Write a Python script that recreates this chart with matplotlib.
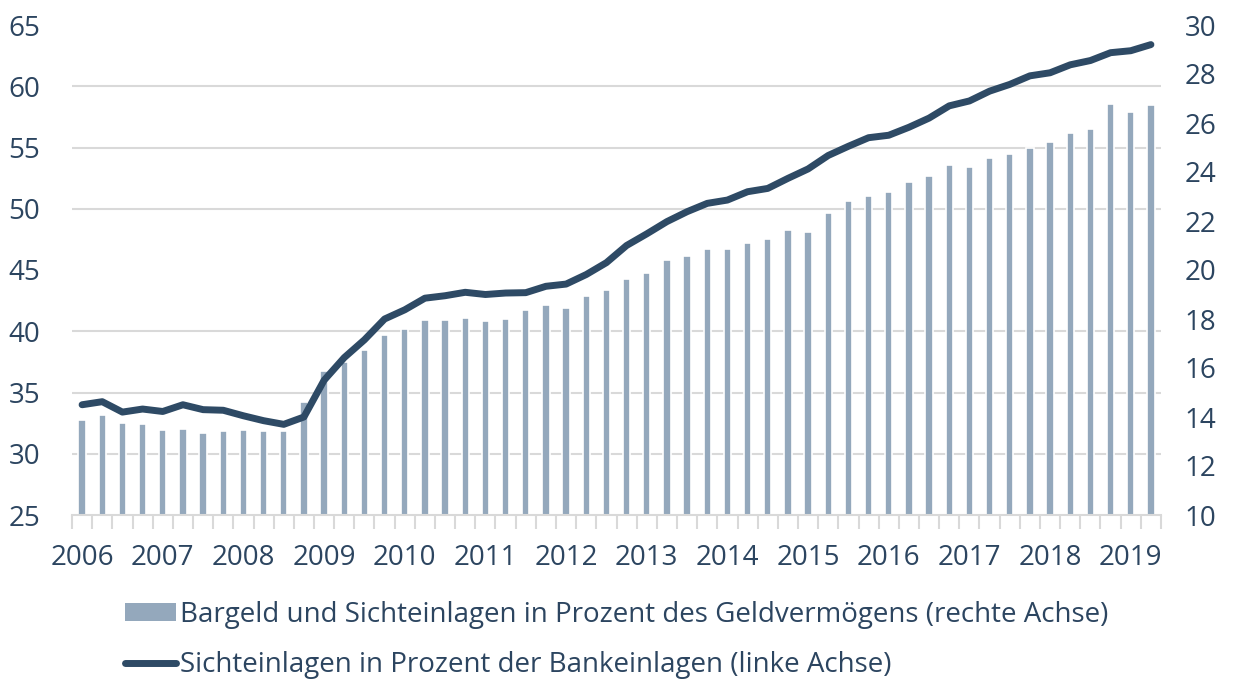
import numpy as np
import matplotlib
matplotlib.use("Agg")
import matplotlib.pyplot as plt
from matplotlib.patches import Patch
from matplotlib.lines import Line2D

years = [str(y) for y in range(2006, 2020)]

# Sichteinlagen in Prozent der Bankeinlagen (linke Achse), quarterly 2006Q1-2019Q2
sicht_bank = [34.0, 34.25, 33.4, 33.65, 33.45, 34.0, 33.6, 33.55, 33.1, 32.7,
              32.4, 33.0, 36.0, 37.85, 39.3, 41.0, 41.75, 42.7, 42.9, 43.18,
              43.0, 43.12, 43.15, 43.67, 43.85, 44.63, 45.6, 47.0, 47.95, 48.95,
              49.76, 50.44, 50.71, 51.39, 51.66, 52.48, 53.25, 54.35, 55.1, 55.8,
              56.0, 56.65, 57.4, 58.4, 58.8, 59.6, 60.15, 60.85, 61.1, 61.75,
              62.1, 62.74, 62.9, 63.4]

# Bargeld und Sichteinlagen in Prozent des Geldvermoegens (rechte Achse)
bargeld = [13.88, 14.09, 13.74, 13.73, 13.47, 13.51, 13.35, 13.44, 13.48, 13.43,
           13.44, 14.61, 15.89, 16.23, 16.73, 17.36, 17.58, 17.96, 17.97, 18.05,
           17.93, 18.01, 18.37, 18.56, 18.44, 18.94, 19.17, 19.64, 19.88, 20.4,
           20.57, 20.86, 20.86, 21.09, 21.27, 21.65, 21.57, 22.34, 22.8, 23.01,
           23.2, 23.61, 23.82, 24.27, 24.19, 24.59, 24.72, 25.0, 25.22, 25.58,
           25.74, 26.76, 26.46, 26.75]

label_bar = "Bargeld und Sichteinlagen in Prozent des Geldvermögens (rechte Achse)"
label_line = "Sichteinlagen in Prozent der Bankeinlagen (linke Achse)"

TXT = "#2c4560"
BAR = "#94a8bc"
LINE = "#2e4a65"
GRID = "#d9d9d9"
FS = 20

plt.rcParams['font.family'] = ['Open Sans', 'DejaVu Sans']

fig = plt.figure(figsize=(12.33, 6.79), dpi=100)
ax2 = fig.add_axes([72/1233, 1-515/679, (1161-72)/1233, (515-25)/679])  # bars, right scale
ax = ax2.twinx()  # line, left scale

n = len(bargeld)
x = np.arange(n)

# bars on right scale
ax2.bar(x, np.array(bargeld) - 10, bottom=10, width=0.37, color=BAR,
        edgecolor="white", linewidth=1.2, zorder=2)
ax2.set_ylim(10, 30)
ax2.set_xlim(-0.5, n - 0.5)
ax2.yaxis.tick_right()
ax2.set_yticks(np.arange(10, 31, 2))
ax2.set_yticks(np.linspace(10, 30, 9), minor=True)
ax2.yaxis.grid(True, which='minor', color=GRID, linewidth=1.5)
ax2.set_axisbelow(True)
ax2.tick_params(axis='y', which='both', length=0, labelsize=FS, labelcolor=TXT, pad=17,
                right=True, left=False, labelright=True, labelleft=False)

# x axis
ax2.set_xticks(np.arange(-0.5, n, 1.0))
ax2.set_xticklabels([])
ax2.set_xticks(np.arange(0, n, 4), labels=years, minor=True)
ax2.tick_params(axis='x', which='major', length=10, width=1.5, color=GRID, direction='out')
ax2.tick_params(axis='x', which='minor', length=0, labelsize=FS, labelcolor=TXT, pad=21)

for s in ['top', 'left', 'right']:
    ax2.spines[s].set_visible(False)
ax2.spines['bottom'].set_color(GRID)
ax2.spines['bottom'].set_linewidth(1.5)

# line on left scale
ax.plot(x, sicht_bank, color=LINE, linewidth=5.0, solid_capstyle='round',
        solid_joinstyle='round', zorder=3)
ax.set_ylim(25, 65)
ax.yaxis.tick_left()
ax.set_yticks(np.arange(25, 66, 5))
ax.tick_params(axis='y', length=0, labelsize=FS, labelcolor=TXT, pad=23,
               left=True, right=False, labelleft=True, labelright=False)
for s in ax.spines.values():
    s.set_visible(False)

handles = [Patch(facecolor=BAR, edgecolor='none'),
           Line2D([0], [0], color=LINE, linewidth=5.0, solid_capstyle='round')]
fig.legend(handles, [label_bar, label_line], loc='center',
           bbox_to_anchor=(0.5, 1 - 640/679),
           frameon=False, fontsize=FS, labelcolor=TXT, handlelength=1.85,
           handleheight=0.65, handletextpad=0.15, labelspacing=0.8, borderpad=0)

fig.savefig("out.png", dpi=100)
